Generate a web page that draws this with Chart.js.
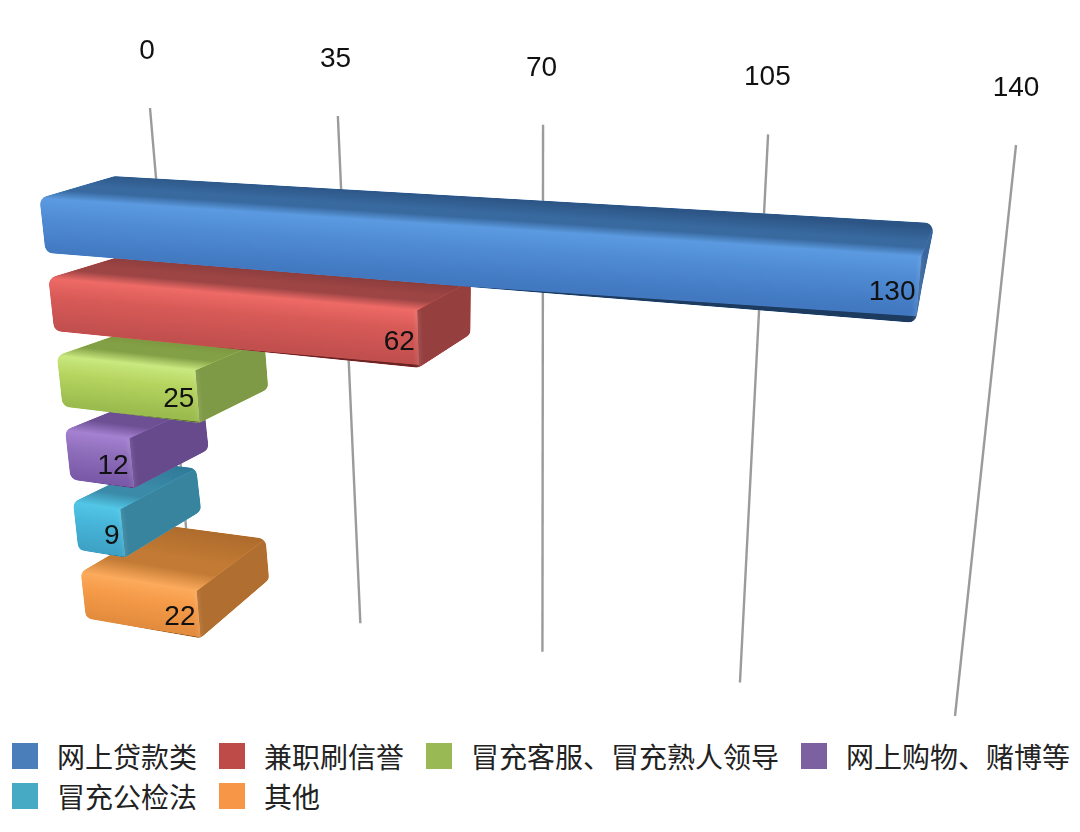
<!DOCTYPE html>
<html lang="zh"><head><meta charset="utf-8">
<script src="https://cdn.jsdelivr.net/npm/chart.js@4"></script>
<style>
html,body{margin:0;padding:0;background:#fff;width:1080px;height:832px;overflow:hidden}
canvas{position:absolute;left:0;top:0}
#legend{position:absolute;left:12px;top:736px;width:1066px;display:flex;flex-wrap:wrap;column-gap:22px;row-gap:0;
font:28px "Noto Sans CJK SC",sans-serif;color:#222}
.it{display:flex;align-items:center;height:40px;white-space:nowrap}
.sw{width:26px;height:26px;margin-right:19px;flex:none}
</style></head><body>
<canvas id="c" width="1080" height="720"></canvas>
<div id="legend"></div>
<script>
const categories=["网上贷款类","兼职刷信誉","冒充客服、冒充熟人领导","网上购物、赌博等","冒充公检法","其他"];
const values=[130,62,25,12,9,22];
const swatchColors=["#4a7ebb","#be4b48","#98b954","#7d60a0","#46aac5","#f79646"];
const tickStep=35, axisMax=140;
const shades=[
 {top:["#2c5484","#38699f"],hi:"#5b9ae0",front:["#4f8bd3","#4178c0"],side:"#3a669c",edge:"#1d3a5f"},
 {top:["#853838","#9d4545"],hi:"#ee6a66",front:["#d75a57","#c14f4e"],side:"#963f3f",edge:"#6a2424"},
 {top:["#728c3c","#82a045"],hi:"#c9e87f",front:["#b5d45f","#9bbb4e"],side:"#7f9a46",edge:"#5a7030"},
 {top:["#5f4585","#6d5094"],hi:"#a581d1",front:["#9070bd","#7a5aa8"],side:"#664a8c",edge:"#473265"},
 {top:["#2f7997","#3a8aa8"],hi:"#52c6e6",front:["#47b6da","#3ea2c6"],side:"#38849f",edge:"#2a6a85"},
 {top:["#ad6b2c","#c27a34"],hi:"#fcaa5c",front:["#f59b49","#e48c3e"],side:"#b06e30",edge:"#8a5522"}
];
function homography(p00,p10,p01,p11){
 const dx1=p10[0]-p11[0],dx2=p01[0]-p11[0],sx=p00[0]-p10[0]+p11[0]-p01[0];
 const dy1=p10[1]-p11[1],dy2=p01[1]-p11[1],sy=p00[1]-p10[1]+p11[1]-p01[1];
 const d=dx1*dy2-dx2*dy1,g=(sx*dy2-dx2*sy)/d,h=(dx1*sy-sx*dy1)/d;
 const a=p10[0]-p00[0]+g*p10[0],b=p01[0]-p00[0]+h*p01[0],c=p00[0];
 const e=p10[1]-p00[1]+g*p10[1],f=p01[1]-p00[1]+h*p01[1],k=p00[1];
 return (u,v)=>{const w=g*u+h*v+1;return [(a*u+b*v+c)/w,(e*u+f*v+k)/w];};
}
const wall=homography([150,108],[1016,145],[192,597],[955,716]);
const rear=homography([113,163],[1014,212],[168,574],[905,680]);
const front=homography([38,185],[1008,246],[87,629],[952,782]);
function roundedPoly(ctx,pts,r){
 const n=pts.length;ctx.beginPath();
 const m0=[(pts[n-1][0]+pts[0][0])/2,(pts[n-1][1]+pts[0][1])/2];
 ctx.moveTo(m0[0],m0[1]);
 for(let i=0;i<n;i++){const a=pts[i],b=pts[(i+1)%n];ctx.arcTo(a[0],a[1],b[0],b[1],r);}
 ctx.closePath();
}
function poly(ctx,pts,fill){ctx.beginPath();pts.forEach((p,i)=>i?ctx.lineTo(p[0],p[1]):ctx.moveTo(p[0],p[1]));ctx.closePath();ctx.fillStyle=fill;ctx.fill();}
function mid(a,b){return [(a[0]+b[0])/2,(a[1]+b[1])/2];}
function bandGrad(ctx,p,q,a,b,stops){
 let nx=-(q[1]-p[1]),ny=q[0]-p[0];const l=Math.hypot(nx,ny);nx/=l;ny/=l;
 const d=(b[0]-a[0])*nx+(b[1]-a[1])*ny;
 const g=ctx.createLinearGradient(a[0],a[1],a[0]+nx*d,a[1]+ny*d);
 stops.forEach(s=>g.addColorStop(s[0],s[1]));return g;
}
const box3d={id:'box3d',
 beforeDatasetDraw(chart,args){
  const ctx=chart.ctx,ca=chart.chartArea,xs=chart.scales.x;
  const W=ca.right-ca.left,H=ca.bottom-ca.top;
  ctx.save();
  xs.ticks.forEach(t=>{
   const u=(xs.getPixelForValue(t.value)-ca.left)/W;
   const a=wall(u,0),b=wall(u,1);
   ctx.strokeStyle="#9b9b9b";ctx.lineWidth=2.4;ctx.beginPath();ctx.moveTo(a[0],a[1]);ctx.lineTo(b[0],b[1]);ctx.stroke();
   ctx.fillStyle="#111";ctx.font='28px "Liberation Sans"';ctx.textAlign="center";ctx.textBaseline="middle";
   ctx.fillText(String(t.value),a[0]-3+u*3,a[1]-57);
  });
  const meta=chart.getDatasetMeta(args.index);
  const labels=[];
  for(let i=meta.data.length-1;i>=0;i--){
   const el=meta.data[i].getProps(['x','y','base','height'],true);
   const u0=(el.base-ca.left)/W,u1=(el.x-ca.left)/W,v0=(el.y-el.height/2-ca.top)/H,v1=(el.y+el.height/2-ca.top)/H;
   const FLT=front(u0,v0),FRT=front(u1,v0),FLB=front(u0,v1),FRB=front(u1,v1);
   const RLT=rear(u0,v0),RRT=rear(u1,v0),RRB=rear(u1,v1);
   const s=shades[i];
   ctx.save();
   roundedPoly(ctx,[RLT,RRT,RRB,FRB,FLB,FLT],9);ctx.clip();
   ctx.fillStyle=s.hi;ctx.fill();
   poly(ctx,[RRT,RRB,FRB,FRT],s.side);
   poly(ctx,[RLT,RRT,FRT,FLT],bandGrad(ctx,FLT,FRT,mid(RLT,RRT),mid(FLT,FRT),[[0,s.top[0]],[.5,s.top[1]],[.7,s.top[1]],[1,s.hi]]));
   poly(ctx,[FLT,FRT,FRB,FLB],bandGrad(ctx,FLT,FRT,mid(FLT,FRT),mid(FLB,FRB),[[0,s.hi],[.35,s.front[0]],[.93,s.front[1]],[.985,s.front[1]],[1,s.edge]]));
   ctx.filter='blur(2px)';ctx.strokeStyle='rgba(255,255,255,.16)';ctx.lineWidth=3;
   ctx.beginPath();ctx.moveTo(FRT[0],FRT[1]);ctx.lineTo(FRB[0],FRB[1]);ctx.stroke();
   ctx.filter='none';
   ctx.restore();
   labels.push({t:values[i],x:(FRT[0]+FRB[0])/2-3,y:(FRT[1]+FRB[1])/2+3});
  }
  ctx.fillStyle="#111";ctx.font='28px "Liberation Sans"';ctx.textAlign="right";ctx.textBaseline="middle";
  labels.forEach(l=>ctx.fillText(String(l.t),l.x,l.y));
  ctx.restore();
  return false;
 }
};
new Chart(document.getElementById('c'),{
 type:'bar',
 data:{labels:categories,datasets:[{data:values,backgroundColor:swatchColors,barPercentage:.68,categoryPercentage:1}]},
 options:{indexAxis:'y',responsive:false,animation:false,
  layout:{padding:0},
  plugins:{legend:{display:false},tooltip:{enabled:false}},
  scales:{
   x:{display:false,position:'top',min:0,max:axisMax,ticks:{stepSize:tickStep}},
   y:{display:false,grid:{display:false}}
  }},
 plugins:[box3d]
});
const lg=document.getElementById('legend');
categories.forEach((c,i)=>{
 const d=document.createElement('div');d.className='it';
 const s=document.createElement('span');s.className='sw';s.style.background=swatchColors[i];
 const t=document.createElement('span');t.textContent=c;
 d.append(s,t);lg.append(d);
});
</script></body></html>
